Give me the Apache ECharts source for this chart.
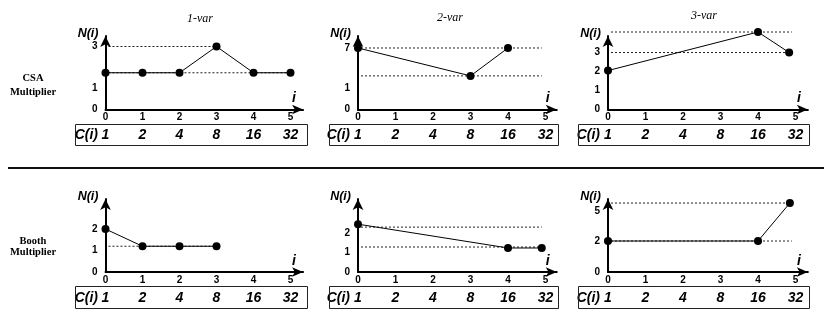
<!DOCTYPE html>
<html>
<head>
<meta charset="utf-8">
<script src="https://cdn.jsdelivr.net/npm/echarts@6/dist/echarts.min.js"></script>
<style>html,body{margin:0;padding:0;background:#fff}#c{width:830px;height:313px}</style>
</head>
<body>
<div id="c"></div>
<script>
// ---------- data ----------
const xTicks = [0, 1, 2, 3, 4, 5];
const cLabels = ['1', '2', '4', '8', '16', '32'];
const colTitles = ['1-var', '2-var', '3-var'];

// plotted levels (x = i, y = level on the schematic N(i) axis)
const csa1 = [[0, 1.75], [1, 1.75], [2, 1.75], [3, 3], [4, 1.75], [5, 1.75]];
const csa2 = [[0, 2.93], [3, 1.6], [4, 2.93]];
const csa3 = [[0, 2.05], [4, 4.08], [4.83, 3]];
const booth1 = [[0, 2], [1, 1.2], [2, 1.2], [3, 1.2]];
const booth2 = [[0, 2.45], [4, 1.23], [4.9, 1.23]];
const booth3 = [[0, 2], [4, 2], [4.85, 4.45]];

// dotted reference lines: [level, i where the line ends]
const csa1Ref = [[3, 3], [1.75, 5]];
const csa2Ref = [[2.93, 4.9], [1.6, 4.9]];
const csa3Ref = [[4.08, 4.9], [3, 4.83]];
const booth1Ref = [[1.2, 3]];
const booth2Ref = [[2.3, 4.9], [1.28, 4.9]];
const booth3Ref = [[4.45, 4.85], [2, 4.9]];

// y tick labels: positions on the level axis and their texts
const csa1YPos = [0, 1, 3], csa1YText = ['0', '1', '3'];
const csa2YPos = [0, 1, 2.93], csa2YText = ['0', '1', '7'];
const csa3YPos = [0, 1, 2, 3], csa3YText = ['0', '1', '2', '3'];
const booth1YPos = [0, 1, 2], booth1YText = ['0', '1', '2'];
const booth2YPos = [0, 1, 2], booth2YText = ['0', '1', '2'];
const booth3YPos = [0, 2, 3.94], booth3YText = ['0', '2', '5'];

// ---------- layout ----------
const panels = [
  {data: csa1, ref: csa1Ref, yPos: csa1YPos, yText: csa1YText, left: 105.5, step: 37, xMax: 5.34, top: 36, h: 73.5, yMax: 3.5},
  {data: csa2, ref: csa2Ref, yPos: csa2YPos, yText: csa2YText, left: 358, step: 37.5, xMax: 5.3, top: 36, h: 73.5, yMax: 3.5},
  {data: csa3, ref: csa3Ref, yPos: csa3YPos, yText: csa3YText, left: 608, step: 37.5, xMax: 5.33, top: 36, h: 73.5, yMax: 3.87},
  {data: booth1, ref: booth1Ref, yPos: booth1YPos, yText: booth1YText, left: 105.5, step: 37, xMax: 5.34, top: 199, h: 73, yMax: 3.4},
  {data: booth2, ref: booth2Ref, yPos: booth2YPos, yText: booth2YText, left: 358, step: 37.5, xMax: 5.3, top: 199, h: 73, yMax: 3.74},
  {data: booth3, ref: booth3Ref, yPos: booth3YPos, yText: booth3YText, left: 608, step: 37.5, xMax: 5.33, top: 199, h: 73, yMax: 4.71}
];

const INK = '#000';
const grid = [], xAxis = [], yAxis = [], series = [];

panels.forEach((p, k) => {
  grid.push({left: p.left, top: p.top, width: p.xMax * p.step, height: p.h});
  xAxis.push({
    type: 'value', gridIndex: k, min: 0, max: p.xMax, position: 'bottom',
    name: 'i', nameLocation: 'end', nameGap: -11, nameMoveOverlap: false,
    nameTextStyle: {fontFamily: 'Liberation Sans', fontWeight: 'bold', fontStyle: 'italic', fontSize: 14, color: INK, verticalAlign: 'bottom', padding: [0, 0, 4, 0]},
    axisLine: {show: true, onZero: false, lineStyle: {color: INK, width: 2}, symbol: ['none', 'arrow'], symbolSize: [7, 11]},
    axisTick: {show: false}, splitLine: {show: false},
    axisLabel: {customValues: xTicks, margin: 3, fontFamily: 'Liberation Sans', fontWeight: 'bold', fontSize: 10, color: INK, formatter: v => String(Math.round(v))}
  });
  xAxis.push({
    type: 'value', gridIndex: k, min: 0, max: p.xMax, position: 'bottom', offset: 26,
    axisLine: {show: false}, axisTick: {show: false}, splitLine: {show: false},
    axisLabel: {customValues: xTicks, margin: 0, verticalAlign: 'middle', fontFamily: 'Liberation Sans', fontWeight: 'bold', fontStyle: 'italic', fontSize: 14, color: INK,
      formatter: v => cLabels[Math.round(v)]}
  });
  yAxis.push({
    type: 'value', gridIndex: k, min: 0, max: p.yMax,
    name: 'N(i)', nameLocation: 'end', nameGap: 2, nameMoveOverlap: false,
    nameTextStyle: {fontFamily: 'Liberation Sans', fontWeight: 'bold', fontStyle: 'italic', fontSize: 12.5, color: INK, align: 'right', verticalAlign: 'middle', padding: [0, 7, 0, 0]},
    axisLine: {show: true, onZero: false, lineStyle: {color: INK, width: 2}, symbol: ['none', 'arrow'], symbolSize: [8, 11]},
    axisTick: {show: false}, splitLine: {show: false},
    axisLabel: {customValues: p.yPos, margin: 8, fontFamily: 'Liberation Sans', fontWeight: 'bold', fontSize: 10, color: INK,
      formatter: v => {
        let best = 0;
        p.yPos.forEach((q, j) => { if (Math.abs(q - v) < Math.abs(p.yPos[best] - v)) best = j; });
        return p.yText[best];
      }}
  });
  p.ref.forEach(r => {
    series.push({
      type: 'line', xAxisIndex: 2 * k, yAxisIndex: k, data: [[0.08, r[0]], [r[1], r[0]]],
      symbol: 'none', silent: true, z: 1, clip: false, animation: false,
      lineStyle: {color: '#222', width: 1, type: [2, 2]}
    });
  });
  series.push({
    type: 'line', xAxisIndex: 2 * k, yAxisIndex: k, data: p.data,
    symbol: 'circle', symbolSize: 8, z: 3, clip: false, animation: false,
    itemStyle: {color: INK}, lineStyle: {color: INK, width: 1}
  });
});

const txt = (t, x, y, opts) => ({
  type: 'text', x: x, y: y,
  style: Object.assign({text: t, fill: INK, align: 'center', verticalAlign: 'middle', fontFamily: 'Liberation Serif', fontSize: 10, fontWeight: 'bold'}, opts || {})
});
const cName = {fontFamily: 'Liberation Sans', fontStyle: 'italic', fontWeight: 'bold', fontSize: 14, align: 'right'};

const graphic = [
  txt(colTitles[0], 200, 19, {fontWeight: 'normal', fontStyle: 'italic', fontSize: 12}),
  txt(colTitles[1], 450, 18, {fontWeight: 'normal', fontStyle: 'italic', fontSize: 12}),
  txt(colTitles[2], 704, 16, {fontWeight: 'normal', fontStyle: 'italic', fontSize: 12}),
  txt('CSA', 33, 78, {fontSize: 10.5}),
  txt('Multiplier', 33, 92, {fontSize: 10.5}),
  txt('Booth', 33, 241, {fontSize: 10.5}),
  txt('Multiplier', 33, 252, {fontSize: 10.5}),
  txt('C(i)', 98, 135.5, cName),
  txt('C(i)', 350, 135.5, cName),
  txt('C(i)', 600, 135.5, cName),
  txt('C(i)', 98, 298, cName),
  txt('C(i)', 350, 298, cName),
  txt('C(i)', 600, 298, cName),
  {type: 'line', shape: {x1: 8, y1: 168, x2: 824, y2: 168}, style: {stroke: '#111', lineWidth: 2}},
  {type: 'rect', shape: {x: 75.5, y: 124.5, width: 232, height: 21}, style: {fill: 'none', stroke: '#222', lineWidth: 1}},
  {type: 'rect', shape: {x: 329.5, y: 124.5, width: 229, height: 21}, style: {fill: 'none', stroke: '#222', lineWidth: 1}},
  {type: 'rect', shape: {x: 578.5, y: 124.5, width: 231, height: 21}, style: {fill: 'none', stroke: '#222', lineWidth: 1}},
  {type: 'rect', shape: {x: 75.5, y: 286.5, width: 232, height: 22}, style: {fill: 'none', stroke: '#222', lineWidth: 1}},
  {type: 'rect', shape: {x: 329.5, y: 286.5, width: 229, height: 22}, style: {fill: 'none', stroke: '#222', lineWidth: 1}},
  {type: 'rect', shape: {x: 578.5, y: 286.5, width: 231, height: 22}, style: {fill: 'none', stroke: '#222', lineWidth: 1}}
];

const chart = echarts.init(document.getElementById('c'), null, {renderer: 'canvas'});
chart.setOption({
  animation: false,
  backgroundColor: '#fff',
  grid: grid, xAxis: xAxis, yAxis: yAxis, series: series, graphic: graphic
});
</script>
</body>
</html>
